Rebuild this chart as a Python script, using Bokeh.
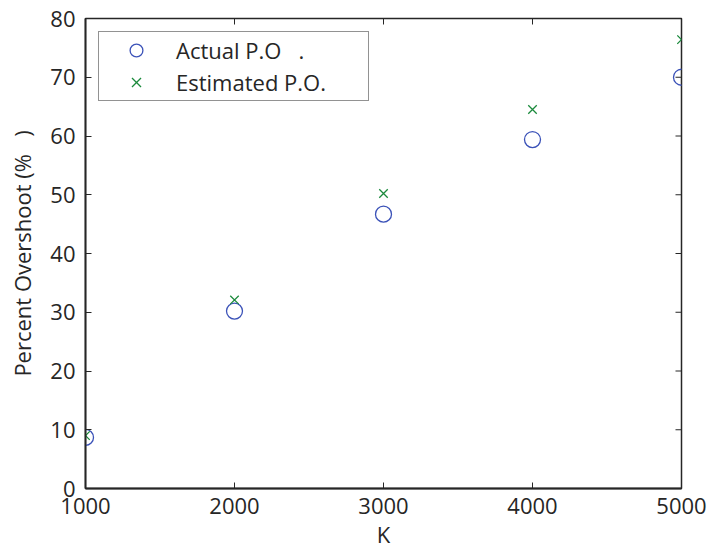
import math
from bokeh.plotting import figure
from bokeh.models import Range1d, FixedTicker, Legend, LegendItem
from bokeh.embed import file_html
from bokeh.resources import INLINE

# Data
k_values = [1000, 2000, 3000, 4000, 5000]
actual_po = [8.7, 30.2, 46.7, 59.4, 70.0]
estimated_po = [9.0, 32.1, 50.2, 64.5, 76.4]
x_ticks = [1000, 2000, 3000, 4000, 5000]
y_ticks = [0, 10, 20, 30, 40, 50, 60, 70, 80]

FONT = "Open Sans"
TXT = "#262626"
BLUE = "#3b52b8"
GREEN = "#1b8a3c"
X_MIN, X_MAX = x_ticks[0], x_ticks[-1]
Y_MIN, Y_MAX = y_ticks[0], y_ticks[-1]

p = figure(width=708, height=552, output_backend="svg", toolbar_location=None,
           x_range=Range1d(X_MIN, X_MAX), y_range=Range1d(Y_MIN, Y_MAX),
           min_border_left=85, min_border_top=18, min_border_right=27, min_border_bottom=64)
p.xgrid.visible = False
p.ygrid.visible = False
p.outline_line_color = TXT
p.outline_line_width = 1.5
p.background_fill_color = "white"
p.border_fill_color = "white"

xa = p.xaxis[0]
ya = p.yaxis[0]
xa.ticker = FixedTicker(ticks=x_ticks)
ya.ticker = FixedTicker(ticks=y_ticks)
for ax in (xa, ya):
    ax.major_tick_in = 6
    ax.major_tick_out = 0
    ax.minor_tick_line_color = None
    ax.axis_line_color = TXT
    ax.axis_line_width = 1.8
    ax.major_tick_line_color = TXT
    ax.major_tick_line_width = 1
    ax.major_label_text_font = FONT
    ax.major_label_text_color = TXT
    ax.major_label_text_font_size = "22px"
    ax.axis_label_text_font = FONT
    ax.axis_label_text_font_size = "22px"
    ax.axis_label_text_font_style = "normal"
    ax.axis_label_text_color = TXT
xa.major_label_standoff = 9
ya.major_label_standoff = 10
xa.axis_label = "K"
ya.axis_label = "Percent Overshoot (%\u00a0\u00a0\u00a0)"
xa.axis_label_standoff = 2
ya.axis_label_standoff = 10

# inward ticks on the top and right edges of the box
p.scatter([X_MAX] * len(y_ticks), y_ticks, marker="dash", size=12,
          line_color=TXT, line_width=1)
p.scatter(x_ticks, [Y_MAX] * len(x_ticks), marker="dash", size=12, angle=math.pi / 2,
          line_color=TXT, line_width=1)

r1 = p.scatter(k_values, actual_po, marker="circle", size=16, fill_color=None,
               line_color=BLUE, line_width=1.3)
r2 = p.scatter(k_values, estimated_po, marker="x", size=12,
               line_color=GREEN, line_width=1.3)

legend = Legend(items=[LegendItem(label="Actual P.O\u00a0\u00a0\u00a0.", renderers=[r1]),
                       LegendItem(label="Estimated P.O.", renderers=[r2])],
                location="top_left")
legend.margin = 13
legend.padding = 2
legend.spacing = 0
legend.label_height = 32
legend.glyph_height = 32
legend.glyph_width = 70
legend.label_standoff = 5
legend.label_width = 190
legend.label_text_font = FONT
legend.label_text_font_size = "22px"
legend.label_text_color = TXT
legend.border_line_color = TXT
legend.border_line_width = 1.5
legend.background_fill_color = "white"
legend.background_fill_alpha = 1
p.add_layout(legend)

open("out.html", "w").write(file_html(p, INLINE))
